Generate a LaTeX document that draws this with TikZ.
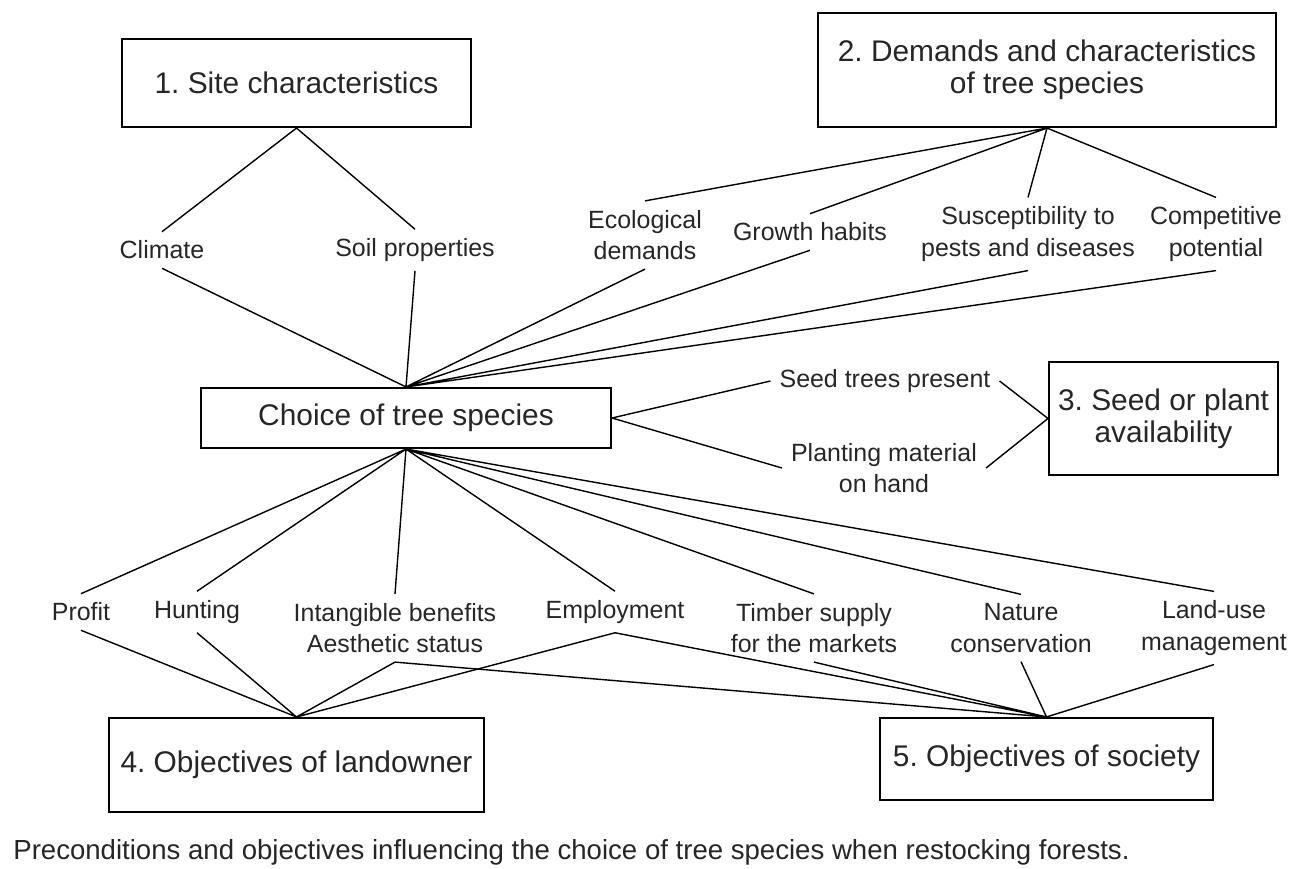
\documentclass[tikz,border=0pt]{standalone}
\usepackage{xcolor}
\usepackage{fontspec}
\setmainfont{Liberation Sans}
\usepackage{tikz}
\usetikzlibrary{positioning}
\frenchspacing

\begin{document}
\begin{tikzpicture}[
    x=0.02cm, y=-0.02cm,
    box/.style={rectangle, draw, line width=1.2pt, text=black!85, font=\fontsize{17}{18}\selectfont, align=center, inner sep=2pt},
    lbl/.style={text=black!85, font=\fontsize{14.2}{18}\selectfont, align=center, inner sep=5pt},
    link/.style={line width=0.8pt}
]
\useasboundingbox (0,0) rectangle (1290,868);
\node[box, minimum width=6.98cm, minimum height=1.76cm] (site) at (296.5,83) {1. Site characteristics};
\node[box, minimum width=9.16cm, minimum height=2.28cm] (demands) at (1047,70) {2. Demands and characteristics\\of tree species};
\node[box, minimum width=8.2cm, minimum height=1.2cm] (choice) at (406,418) {Choice of tree species};
\node[box, minimum width=4.58cm, minimum height=2.26cm] (seed) at (1163.5,418.5) {3. Seed or plant\\availability};
\node[box, minimum width=7.5cm, minimum height=1.88cm] (owner) at (296.5,765) {4. Objectives of landowner};
\node[box, minimum width=6.66cm, minimum height=1.64cm] (society) at (1046.5,759) {5. Objectives of society};

\node[lbl] (climate) at (162,250) {Climate};
\node[lbl] (soil) at (415,250) {Soil properties};
\node[lbl] (ecol) at (645,235) {Ecological\\demands};
\node[lbl] (growth) at (810,232) {Growth habits};
\node[lbl] (suscept) at (1028,234) {Susceptibility to\\pests and diseases};
\node[lbl] (compet) at (1216,234) {Competitive\\potential};
\node[lbl] (seedtrees) at (885,381) {Seed trees present};
\node[lbl] (planting) at (884,468) {Planting material\\on hand};
\node[lbl] (profit) at (81,612) {Profit};
\node[lbl] (hunting) at (197,612) {Hunting};
\node[lbl] (intang) at (395,628) {Intangible benefits\\Aesthetic status};
\node[lbl] (employ) at (615,612) {Employment};
\node[lbl] (timber) at (814,628) {Timber supply\\for the markets};
\node[lbl] (nature) at (1021,628) {Nature\\conservation};
\node[lbl] (landuse) at (1214,628) {Land-use\\management};
\node[lbl, anchor=west, inner sep=0pt, font=\fontsize{15.7}{18}\selectfont] (caption) at (13,852) {Preconditions and objectives influencing the choice of tree species when restocking forests.};

\draw[link] (site.south) -- (climate.north) (site.south) -- (soil.north);
\draw[link] (demands.south) -- (ecol.north) (demands.south) -- (growth.north)
    (demands.south) -- (suscept.north) (demands.south) -- (compet.north);
\draw[link] (choice.north) -- (climate.south) (choice.north) -- (soil.south)
    (choice.north) -- (ecol.south) (choice.north) -- (growth.south)
    (choice.north) -- (suscept.south) (choice.north) -- (compet.south);
\draw[link] (choice.east) -- (seedtrees.west) (choice.east) -- (planting.west);
\draw[link] (seed.west) -- (seedtrees.east) (seed.west) -- (planting.east);
\draw[link] (choice.south) -- (profit.north) (choice.south) -- (hunting.north)
    (choice.south) -- (intang.north) (choice.south) -- (employ.north)
    (choice.south) -- (timber.north) (choice.south) -- (nature.north)
    (choice.south) -- (landuse.north);
\draw[link] (owner.north) -- (profit.south) (owner.north) -- (hunting.south)
    (owner.north) -- (intang.south) (owner.north) -- (employ.south);
\draw[link] (society.north) -- (intang.south) (society.north) -- (employ.south)
    (society.north) -- (timber.south) (society.north) -- (nature.south)
    (society.north) -- (landuse.south);
\end{tikzpicture}
\end{document}
